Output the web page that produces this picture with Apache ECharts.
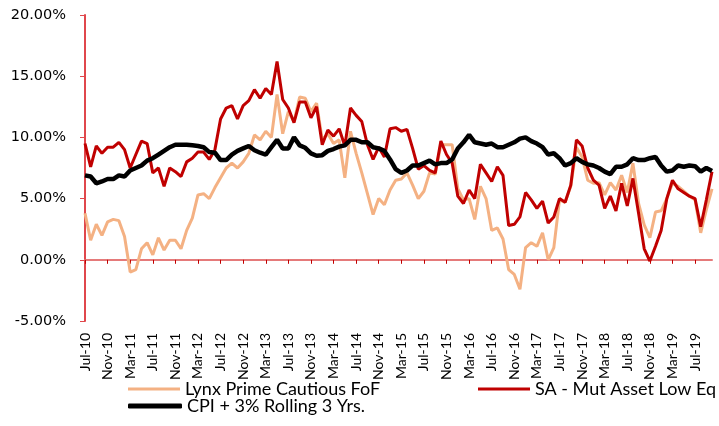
<!DOCTYPE html>
<html>
<head>
<meta charset="utf-8">
<script src="https://cdn.jsdelivr.net/npm/echarts@6/dist/echarts.min.js"></script>
<style>
  html, body { margin: 0; padding: 0; background: #fff; }
  #chart { width: 719px; height: 426px; }
</style>
</head>
<body>
<div id="chart"></div>
<script>
// monthly categories, Jul-10 .. Oct-19
const monthNames = ['Jan', 'Feb', 'Mar', 'Apr', 'May', 'Jun', 'Jul', 'Aug', 'Sep', 'Oct', 'Nov', 'Dec'];
const months = [];
for (let k = 0; k < 112; k++) {
    const m = (6 + k) % 12;
    const y = 10 + Math.floor((6 + k) / 12);
    months.push(monthNames[m] + '-' + y);
}

const yTicks = [-5, 0, 5, 10, 15, 20];

// Lynx Prime Cautious FoF (%)
const lynx = [
    3.8, 1.6, 2.9, 2.0, 3.1, 3.3, 3.2, 1.9, -1.0, -0.8,
    0.9, 1.4, 0.4, 1.8, 0.8, 1.6, 1.6, 0.9, 2.4, 3.4,
    5.3, 5.4, 5.0, 5.9, 6.7, 7.5, 7.9, 7.5, 8.0, 8.7,
    10.2, 9.8, 10.5, 10.0, 13.5, 10.3, 12.1, 11.3, 13.3, 13.2,
    12.1, 12.8, 9.8, 10.3, 9.5, 9.8, 6.7, 10.5, 8.7, 7.1,
    5.4, 3.7, 5.0, 4.5, 5.7, 6.5, 6.6, 7.1, 6.1, 5.0,
    5.6, 7.1, 7.0, 9.4, 9.4, 9.4, 5.8, 4.9, 5.0, 3.3,
    6.0, 5.0, 2.4, 2.6, 1.7, -0.8, -1.2, -2.4, 1.0, 1.4,
    1.1, 2.2, 0.0, 1.0, 4.9, 4.7, 6.0, 9.2, 8.4, 6.5,
    6.25, 6.3, 5.3, 6.3, 5.7, 6.9, 5.5, 7.9, 4.6, 2.85,
    1.8, 3.9, 4.0, 5.0, 6.25, 6.0, 5.6, 5.2, 4.9, 2.2,
    4.1, 5.8
];

// SA - Mut Asset Low Eq (%)
const saLowEq = [
    9.5, 7.6, 9.3, 8.7, 9.2, 9.2, 9.6, 9.0, 7.5, 8.6,
    9.7, 9.5, 7.1, 7.5, 6.0, 7.5, 7.2, 6.8, 8.0, 8.3,
    8.8, 8.8, 8.2, 9.0, 11.5, 12.4, 12.6, 11.5, 12.6, 13.0,
    13.9, 13.2, 14.0, 13.5, 16.2, 13.1, 12.4, 11.2, 12.9, 12.9,
    11.6, 12.5, 9.4, 10.6, 10.1, 10.7, 9.3, 12.4, 11.8, 11.3,
    9.4, 8.2, 9.2, 8.4, 10.7, 10.8, 10.5, 10.65, 9.1, 7.4,
    7.7, 7.3, 7.1, 9.7, 8.6, 7.9, 5.2, 4.6, 5.7, 5.0,
    7.8, 7.1, 6.4, 7.6, 6.9, 2.8, 2.9, 3.5, 5.5, 4.9,
    4.2, 4.8, 3.0, 3.5, 5.0, 4.7, 6.1, 9.8, 9.3, 7.5,
    6.5, 6.1, 4.2, 5.2, 4.0, 6.25, 4.4, 6.65, 3.8, 0.9,
    -0.1, 1.1, 2.4, 5.0, 6.5, 5.8, 5.5, 5.2, 5.0, 2.7,
    4.9, 7.2
];

// CPI + 3% Rolling 3 Yrs. (%)
const cpiPlus3 = [
    6.9, 6.8, 6.25, 6.4, 6.6, 6.6, 6.9, 6.8, 7.3, 7.5,
    7.7, 8.1, 8.3, 8.6, 8.9, 9.2, 9.4, 9.4, 9.4, 9.35,
    9.3, 9.2, 8.8, 8.75, 8.15, 8.15, 8.6, 8.9, 9.1, 9.3,
    8.95, 8.75, 8.6, 9.2, 9.8, 9.1, 9.1, 10.0, 9.35, 9.15,
    8.7, 8.5, 8.55, 8.9, 9.05, 9.25, 9.35, 9.8, 9.8, 9.6,
    9.6, 9.2, 9.1, 8.9, 8.2, 7.4, 7.1, 7.3, 7.7, 7.7,
    7.9, 8.1, 7.8, 7.9, 7.9, 8.2, 9.1, 9.6, 10.2, 9.6,
    9.5, 9.4, 9.5, 9.2, 9.2, 9.4, 9.6, 9.9, 10.0, 9.7,
    9.5, 9.2, 8.6, 8.7, 8.3, 7.7, 7.9, 8.3, 8.0, 7.8,
    7.7, 7.5, 7.2, 7.0, 7.6, 7.6, 7.8, 8.3, 8.15, 8.15,
    8.3, 8.4, 7.7, 7.2, 7.3, 7.7, 7.6, 7.7, 7.65, 7.2,
    7.5, 7.25
];

const seriesNames = ['Lynx Prime Cautious FoF', 'SA - Mut Asset Low Eq', 'CPI + 3% Rolling 3 Yrs.'];
const seriesColors = ['#F4B183', '#C00000', '#000000'];

const chart = echarts.init(document.getElementById('chart'));

const legendText = { fontFamily: 'Lato', fontSize: 18, color: '#000' };

chart.setOption({
    animation: false,
    grid: { left: 85, right: 7, top: 15, bottom: 105 },
    legend: [
        { data: [seriesNames[0]], left: 128, top: 380, padding: 0, icon: 'rect', itemWidth: 52, itemHeight: 3, itemGap: 4, textStyle: legendText },
        { data: [seriesNames[1]], left: 478, top: 380, padding: 0, icon: 'rect', itemWidth: 52, itemHeight: 3, textStyle: legendText },
        { data: [seriesNames[2]], left: 128, top: 397, padding: 0, icon: 'roundRect', itemWidth: 54, itemHeight: 5, textStyle: legendText }
    ],
    xAxis: [
        {
            type: 'category',
            data: months,
            boundaryGap: false,
            axisLine: { onZero: true, lineStyle: { color: '#E57A7A', width: 2 } },
            axisTick: { interval: 3, length: 4, lineStyle: { color: '#C00000', width: 1 } },
            axisLabel: { show: false },
            splitLine: { show: false }
        },
        {
            type: 'category',
            data: months,
            boundaryGap: false,
            position: 'bottom',
            axisLine: { show: false, onZero: false },
            axisTick: { show: false },
            axisLabel: {
                interval: 3,
                rotate: 90,
                margin: 12,
                fontFamily: 'Lato',
                fontSize: 14,
                color: '#000'
            },
            splitLine: { show: false }
        }
    ],
    yAxis: {
        type: 'value',
        min: yTicks[0],
        max: yTicks[yTicks.length - 1],
        interval: 5,
        axisLine: { show: true, lineStyle: { color: '#E0474C', width: 2 } },
        axisTick: { show: true, length: 5, lineStyle: { color: '#E0474C' } },
        axisLabel: {
            margin: 19,
            fontFamily: 'DejaVu Sans',
            fontSize: 14.5,
            color: '#000',
            formatter: v => v.toFixed(2) + '%'
        },
        splitLine: { show: false }
    },
    series: [
        { name: seriesNames[0], type: 'line', data: lynx, symbol: 'none', lineStyle: { width: 3, color: seriesColors[0] }, itemStyle: { color: seriesColors[0] } },
        { name: seriesNames[1], type: 'line', data: saLowEq, symbol: 'none', lineStyle: { width: 3, color: seriesColors[1] }, itemStyle: { color: seriesColors[1] } },
        { name: seriesNames[2], type: 'line', data: cpiPlus3, symbol: 'none', lineStyle: { width: 4.5, color: seriesColors[2] }, itemStyle: { color: seriesColors[2] } }
    ]
});
</script>
</body>
</html>
